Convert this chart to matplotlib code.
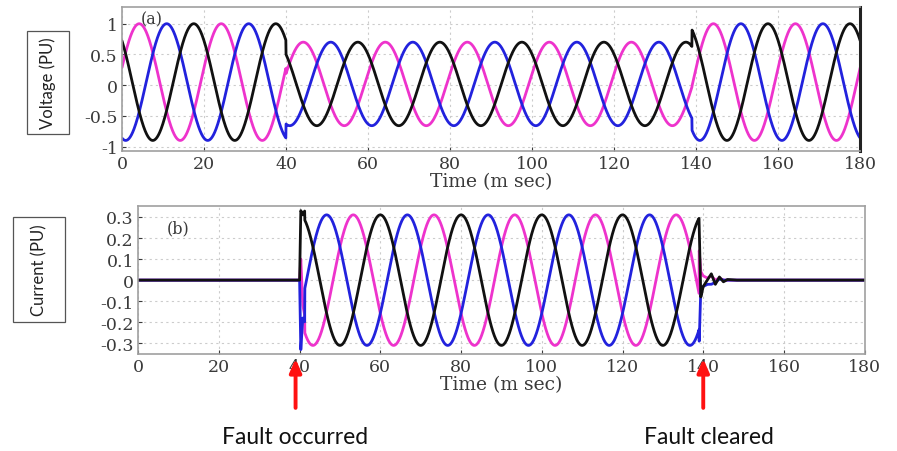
import numpy as np
import matplotlib
matplotlib.use("Agg")
import matplotlib.pyplot as plt
from matplotlib.patches import Rectangle

# ---------------- data ----------------
freq_hz = 50.0
phase_colors = ["#ee33cc", "#2222dd", "#111111"]   # magenta, blue, black
x_ticks = [0, 20, 40, 60, 80, 100, 120, 140, 160, 180]

# voltage: time (ms) of a positive peak for each phase, amplitude/offset per segment
volt_peak_ms = [4.2, 10.9, 17.5]
volt_amp = [0.95, 0.68, 0.95]        # pre-fault, fault, post-fault
volt_offset = [0.05, 0.02, 0.05]
fault_start_ms = 40.0
fault_clear_ms = 139.0
volt_yticks = [-1, -0.5, 0, 0.5, 1]
volt_yticklabels = ["-1", "-0.5", "0", "0.5", "1"]

# current: peak time per phase, fault amplitude
curr_peak_ms = [13.3, 6.7, 0.0]
curr_amp = 0.31
curr_yticks = [-0.3, -0.2, -0.1, 0, 0.1, 0.2, 0.3]
curr_yticklabels = ["-0.3", "-0.2", "-0.1", "0", "0.1", "0.2", "0.3"]

# transients (time ms, value) per phase
onset_t = [40.0, 40.3, 40.8, 41.3]
onset_vals = [[0.0, 0.1, -0.12, -0.17],      # magenta
              [0.0, -0.33, -0.18, -0.2],     # blue
              [0.0, 0.33, 0.31, 0.33]]       # black
clear_t = [139.0, 139.4, 140.0, 141.0, 142.0, 143.0, 144.0, 145.0, 146.0, 148.0]
clear_vals = [[0.14, 0.04, 0.02, 0.01, 0.02, 0.0, 0.01, 0.0, 0.0, 0.0],
              [-0.29, -0.04, -0.03, -0.02, -0.02, -0.01, 0.005, 0.0, 0.0, 0.0],
              [0.25, -0.08, -0.03, 0.0, 0.03, -0.02, 0.015, -0.008, 0.003, 0.0]]

ann_x = [39.0, 140.0]
ann_text = ["Fault occurred", "Fault cleared"]

# ---------------- figure ----------------
plt.rcParams["font.family"] = ["DejaVu Serif"]
fig = plt.figure(figsize=(8.97, 4.52), dpi=100)

t = np.linspace(0, 180, 3601)
w = 2 * np.pi * freq_hz / 1000.0
seg = np.where(t < fault_start_ms, 0, np.where(t < fault_clear_ms, 1, 2))

tick_col = "#3a3a3a"
spine_col = "#a0a0a0"
sans = ["Lato", "DejaVu Sans"]

def style_axes(ax):
    ax.set_xlim(0, 180)
    ax.set_xticks(x_ticks)
    ax.grid(True, color="#cccccc", linestyle=(0, (2, 3)), linewidth=0.8)
    ax.tick_params(direction="in", length=3, colors=tick_col, labelsize=12.5,
                   labelcolor=tick_col, pad=3)
    for s in ax.spines.values():
        s.set_color(spine_col)
        s.set_linewidth(1.2)

# --- top: voltage ---
ax1 = fig.add_axes([0.136, 0.664, 0.823, 0.318])
amps = np.array(volt_amp)[seg]
offs = np.array(volt_offset)[seg]
for col, pk in zip(phase_colors, volt_peak_ms):
    v = offs + amps * np.cos(w * (t - pk))
    ax1.plot(t, v, color=col, lw=2.0, solid_capstyle="round")
ax1.set_ylim(-1.07, 1.27)
ax1.set_yticks(volt_yticks)
ax1.set_yticklabels(volt_yticklabels)
style_axes(ax1)
ax1.spines["right"].set_color("#222222")
ax1.spines["right"].set_linewidth(2.2)
ax1.set_xlabel("Time (m sec)", fontsize=13.5, color=tick_col, labelpad=0)
ax1.text(0.025, 0.92, "(a)", transform=ax1.transAxes, fontsize=11.5,
         color=tick_col, va="center", ha="left")
fig.patches.append(Rectangle((0.0301, 0.7013), 0.0468, 0.228, transform=fig.transFigure,
                             fc="white", ec="#555555", lw=0.9, zorder=5))
fig.text(0.0535, 0.815, "Voltage (PU)", rotation=90, fontsize=12, family=sans,
         ha="center", va="center", color="#222222", zorder=6)

# --- bottom: current ---
ax2 = fig.add_axes([0.154, 0.215, 0.81, 0.327])
for i, (col, pk) in enumerate(zip(phase_colors, curr_peak_ms)):
    c = np.where((t >= fault_start_ms) & (t < fault_clear_ms),
                 curr_amp * np.cos(w * (t - pk)), 0.0)
    on_mask = (t >= onset_t[0]) & (t <= onset_t[-1])
    c[on_mask] = np.interp(t[on_mask], onset_t, onset_vals[i])
    cl_mask = (t >= clear_t[0]) & (t <= clear_t[-1])
    c[cl_mask] = np.interp(t[cl_mask], clear_t, clear_vals[i])
    ax2.plot(t, c, color=col, lw=2.0)
ax2.set_ylim(-0.35, 0.352)
ax2.set_yticks(curr_yticks)
ax2.set_yticklabels(curr_yticklabels)
style_axes(ax2)
ax2.set_xlabel("Time (m sec)", fontsize=13.5, color=tick_col, labelpad=0)
ax2.text(0.04, 0.85, "(b)", transform=ax2.transAxes, fontsize=11.5,
         color=tick_col, va="center", ha="left")
fig.patches.append(Rectangle((0.0145, 0.2854), 0.058, 0.2323, transform=fig.transFigure,
                             fc="white", ec="#555555", lw=0.9, zorder=5))
fig.text(0.0435, 0.4015, "Current (PU)", rotation=90, fontsize=12, family=sans,
         ha="center", va="center", color="#222222", zorder=6)

# --- annotations ---
for xv in ann_x:
    ax2.annotate("", xy=(xv, -0.36), xycoords="data",
                 xytext=(xv, -0.62), textcoords="data",
                 arrowprops=dict(arrowstyle="-|>,head_width=0.35,head_length=0.8",
                                 color="#ff1111", lw=2.8),
                 annotation_clip=False)
ax2.text(ann_x[0], -0.745, ann_text[0], ha="center", va="center", fontsize=16.5,
         family=sans, color="#111111", clip_on=False)
ax2.text(ann_x[1] + 1.5, -0.745, ann_text[1], ha="center", va="center", fontsize=16.5,
         family=sans, color="#111111", clip_on=False)

fig.savefig("out.png", dpi=100)
